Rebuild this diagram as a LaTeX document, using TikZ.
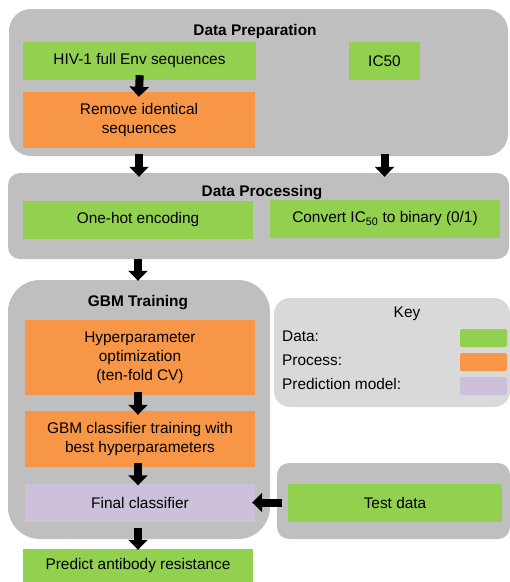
\documentclass[tikz,border=0pt]{standalone}
\usepackage{fontspec}
\setmainfont{Liberation Sans}
\usetikzlibrary{arrows.meta}
\definecolor{cgray}{HTML}{BFBFBF}
\definecolor{ckey}{HTML}{D9D9D9}
\definecolor{cgreen}{HTML}{92D050}
\definecolor{corange}{HTML}{F79646}
\definecolor{cpurple}{HTML}{CCC0DA}
\begin{document}
\begin{tikzpicture}[x=1pt,y=-1pt,
  every node/.style={font=\fontsize{15.4}{19}\selectfont, text=black, inner sep=0pt},
  container/.style={fill=cgray, draw=none, rectangle},
  box/.style={rectangle, draw=none, align=center},
  databox/.style={box, fill=cgreen},
  procbox/.style={box, fill=corange},
  modelbox/.style={box, fill=cpurple},
  title/.style={font=\fontsize{15.4}{19}\selectfont\bfseries},
  swatch/.style={rectangle, rounded corners=2pt, minimum width=47pt, minimum height=18pt},
  blockarrow/.style={draw=black, line width=8pt, -{Triangle[width=19pt,length=10pt]}}
]
\useasboundingbox (0,0) rectangle (510,582);

% containers
\node[container, rounded corners=22pt, minimum width=499pt, minimum height=147pt] (prep) at (258.5,82.5) {};
\node[container, rounded corners=12pt, minimum width=501pt, minimum height=86pt] (proc) at (258.5,216) {};
\node[container, rounded corners=32pt, minimum width=262pt, minimum height=259pt] (gbm) at (139,409.5) {};
\node[rectangle, fill=ckey, rounded corners=16pt, minimum width=236pt, minimum height=109pt] (key) at (392,352.5) {};
\node[container, rounded corners=12pt, minimum width=233pt, minimum height=76pt] (testout) at (393.5,501) {};

% titles
\node[title] (tprep) at (255,32) {Data Preparation};
\node[title] (tproc) at (262,193) {Data Processing};
\node[title] (tgbm) at (138,303) {GBM Training};
\node (tkey) at (407,314) {Key};

% data preparation
\node[databox, minimum width=233pt, minimum height=38pt] (hiv) at (139.5,61) {HIV-1 full Env sequences};
\node[databox, minimum width=71pt, minimum height=38pt] (ic50) at (384.5,61) {IC50};
\node[procbox, minimum width=232pt, minimum height=56pt] (rem) at (139,120) {Remove identical\\sequences};

% data processing
\node[databox, minimum width=230pt, minimum height=38pt] (onehot) at (138,220) {One-hot encoding};
\node[databox, minimum width=230pt, minimum height=38pt] (conv) at (385,219) {Convert IC\textsubscript{50} to binary (0/1)};

% GBM training
\node[procbox, minimum width=230pt, minimum height=75pt] (hyper) at (140,357.5) {Hyperparameter\\optimization\\(ten-fold CV)};
\node[procbox, minimum width=230pt, minimum height=56pt] (gbmc) at (140,439) {GBM classifier training with\\best hyperparameters};
\node[modelbox, minimum width=230pt, minimum height=38pt] (final) at (140,502.5) {Final classifier};
\node[databox, minimum width=230pt, minimum height=34pt] (predict) at (138,566) {Predict antibody resistance};

% test data
\node[databox, minimum width=214pt, minimum height=38pt] (test) at (395,502.5) {Test data};

% key
\node[anchor=west] (kdata) at (282,336) {Data:};
\node[anchor=west] (kproc) at (282,360) {Process:};
\node[anchor=west] (kmodel) at (282,384) {Prediction model:};
\node[swatch, fill=cgreen] (sdata) at (483.5,338) {};
\node[swatch, fill=corange] (sproc) at (483.5,362) {};
\node[swatch, fill=cpurple] (smodel) at (483.5,386) {};

% arrows
\draw[blockarrow, shorten <=-5pt, shorten >=-5pt] (hiv.south) -- (rem.north);
\draw[blockarrow, shorten <=-2pt, shorten >=-4pt] (prep.south -| rem.south) -- (proc.north -| rem.south);
\draw[blockarrow, shorten <=-2pt, shorten >=-4pt] (prep.south -| ic50.south) -- (proc.north -| ic50.south);
\draw[blockarrow, shorten <=0pt, shorten >=-1pt] (proc.south -| onehot.south) -- (gbm.north -| onehot.south);
\draw[blockarrow, shorten <=-3pt, shorten >=-4pt] (hyper.south -| tgbm.south) -- (gbmc.north -| tgbm.south);
\draw[blockarrow, shorten <=-4pt, shorten >=-2pt] (gbmc.south -| tgbm.south) -- (final.north -| tgbm.south);
\draw[blockarrow, shorten <=6pt, shorten >=-1pt] (final.south -| tgbm.south) -- (predict.north -| tgbm.south);
\draw[blockarrow, shorten <=6pt, shorten >=-3pt] (test.west) -- (final.east);
\end{tikzpicture}
\end{document}
